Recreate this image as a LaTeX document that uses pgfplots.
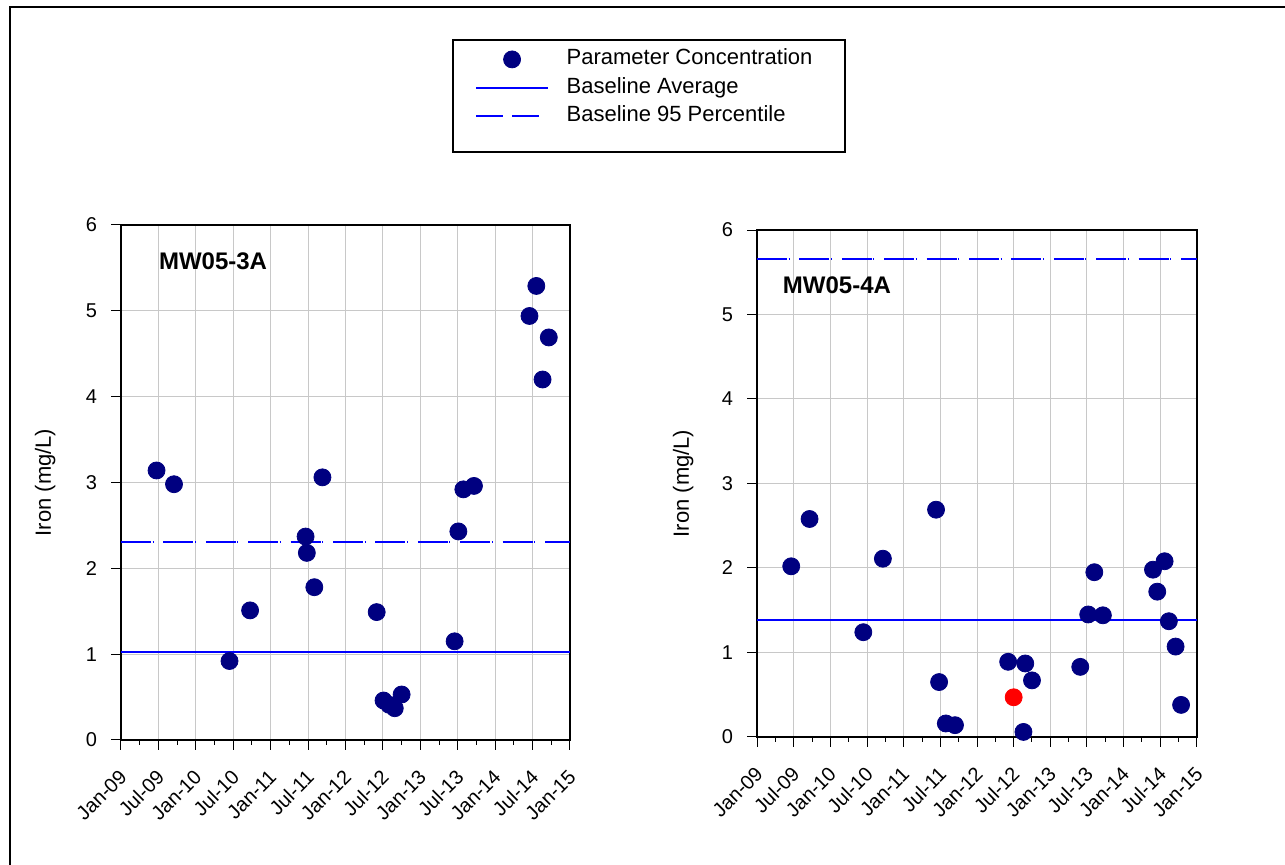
\documentclass[border=0pt]{standalone}
\usepackage{fontspec}
\setmainfont{Liberation Sans}
\usepackage{pgfplots}
\pgfplotsset{compat=1.18}
\definecolor{navy}{RGB}{0,0,128}
\definecolor{gridgray}{RGB}{200,200,200}
\definecolor{lineblue}{RGB}{0,0,255}

\pgfplotstableread{
x y
5.7 3.14
8.5 2.98
17.4 0.92
20.7 1.51
29.6 2.37
29.8 2.18
31.0 1.78
32.3 3.06
41.0 1.49
42.1 0.46
43.0 0.41
43.9 0.37
45.0 0.53
53.5 1.15
54.1 2.43
54.9 2.92
56.6 2.96
65.5 4.94
66.6 5.29
67.6 4.20
68.6 4.69
}\dataA

\pgfplotstableread{
x y
5.6 2.02
8.6 2.58
17.4 1.24
20.6 2.11
29.3 2.69
29.8 0.65
30.9 0.16
32.4 0.14
41.1 0.89
43.9 0.87
43.6 0.06
45.0 0.67
52.9 0.83
54.2 1.45
55.2 1.95
56.6 1.44
64.8 1.98
65.5 1.72
66.7 2.08
67.4 1.37
68.5 1.07
69.4 0.38
}\dataB

\pgfplotstableread{
x y
42.0 0.47
}\dataBred

\pgfplotsset{
  panel/.style={
    scale only axis,
    xmin=0, xmax=72, ymin=0, ymax=6,
    xtick={0,6,...,72}, minor xtick={3,9,...,69},
    xticklabels={Jan-09,Jul-09,Jan-10,Jul-10,Jan-11,Jul-11,Jan-12,Jul-12,Jan-13,Jul-13,Jan-14,Jul-14,Jan-15},
    ytick={0,1,...,6},
    xtick pos=left, ytick pos=left,
    tick align=outside, major tick length=5pt, minor tick length=2.5pt,
    xmajorgrids, ymajorgrids,
    major grid style={gridgray, line width=0.5pt},
    axis line style={line width=0.6pt},
    tick style={black, line width=0.5pt},
    /pgf/number format/assume math mode=true,
    tick label style={font=\fontsize{10}{12}\selectfont},
    xticklabel style={font=\fontsize{10}{12}\selectfont, inner sep=0pt, xshift=1.2pt, yshift=-11.7pt, rotate=45, anchor=east},
    yticklabel style={xshift=-3.5pt},
    ylabel={Iron (mg/L)},
    label style={font=\fontsize{11}{13}\selectfont},
    clip=false,
  },
  pts/.style={only marks, mark=*, mark size=4.25pt, color=navy},
  bline/.style={draw=lineblue, color=lineblue, line width=1pt},
  legmark/.style={legend image code/.code={\path (0pt,0pt) (35.8pt,0pt); \draw[##1, mark repeat=1] plot coordinates {(18pt,0pt)};}},
  legline/.style={legend image code/.code={\draw[##1] (0pt,0pt) -- (35.8pt,0pt);}},
  legdash/.style={legend image code/.code={\path (0pt,0pt) (35.8pt,0pt); \draw[##1, dash pattern=on 13.3pt off 4.7pt] (0pt,0pt) -- (31.3pt,0pt);}},
}

\begin{document}
\begin{tikzpicture}
\useasboundingbox (0,0) rectangle (642.5pt,432.5pt);
\draw[line width=1pt] (5pt,0pt) -- (5pt,429pt) -- (642.5pt,429pt);
\draw[line width=0.8pt] (226.5pt,356.5pt) rectangle (422.5pt,412.5pt);

\begin{axis}[panel,
  at={(60.5pt,62.5pt)}, anchor=south west,
  width=224.5pt, height=257.5pt,
  ylabel style={at={(axis description cs:-0.169,0.5)}, anchor=center},
  legend style={at={(axis description cs:0.7877,1.3466)}, anchor=north west,
    draw=none, fill=none, inner sep=0pt,
    font=\fontsize{11}{13}\selectfont,
    nodes={inner sep=1pt, text height=8pt, text depth=2.5pt},
    row sep=1.75pt,
    /tikz/every odd column/.append style={column sep=8pt}},
  legend cell align=left,
]
\addplot[pts, legmark] table[x=x,y=y] {\dataA};
\addlegendentry{Parameter Concentration}
\addplot[bline, legline] coordinates {(0,1.02) (72,1.02)};
\addlegendentry{Baseline Average}
\addplot[bline, dash pattern=on 15pt off 0.8pt on 0.4pt off 5pt, legdash] coordinates {(0,2.31) (72,2.31)};
\addlegendentry{Baseline 95 Percentile}
\node[anchor=west, font=\bfseries\fontsize{12}{14}\selectfont] at (axis description cs:0.069,0.930) {MW05-3A};
\end{axis}

\begin{axis}[panel,
  at={(378.5pt,64pt)}, anchor=south west,
  width=220pt, height=253.5pt,
  ylabel style={at={(axis description cs:-0.168,0.5)}, anchor=center},
]
\addplot[bline] coordinates {(0,1.39) (72,1.39)};
\addplot[bline, dash pattern=on 15pt off 0.8pt on 0.4pt off 5pt] coordinates {(0,5.66) (72,5.66)};
\addplot[pts] table[x=x,y=y] {\dataB};
\addplot[only marks, mark=*, mark size=4.25pt, color=red] table[x=x,y=y] {\dataBred};
\node[anchor=west, font=\bfseries\fontsize{12}{14}\selectfont] at (axis description cs:0.043,0.8915) {MW05-4A};
\end{axis}
\end{tikzpicture}
\end{document}
